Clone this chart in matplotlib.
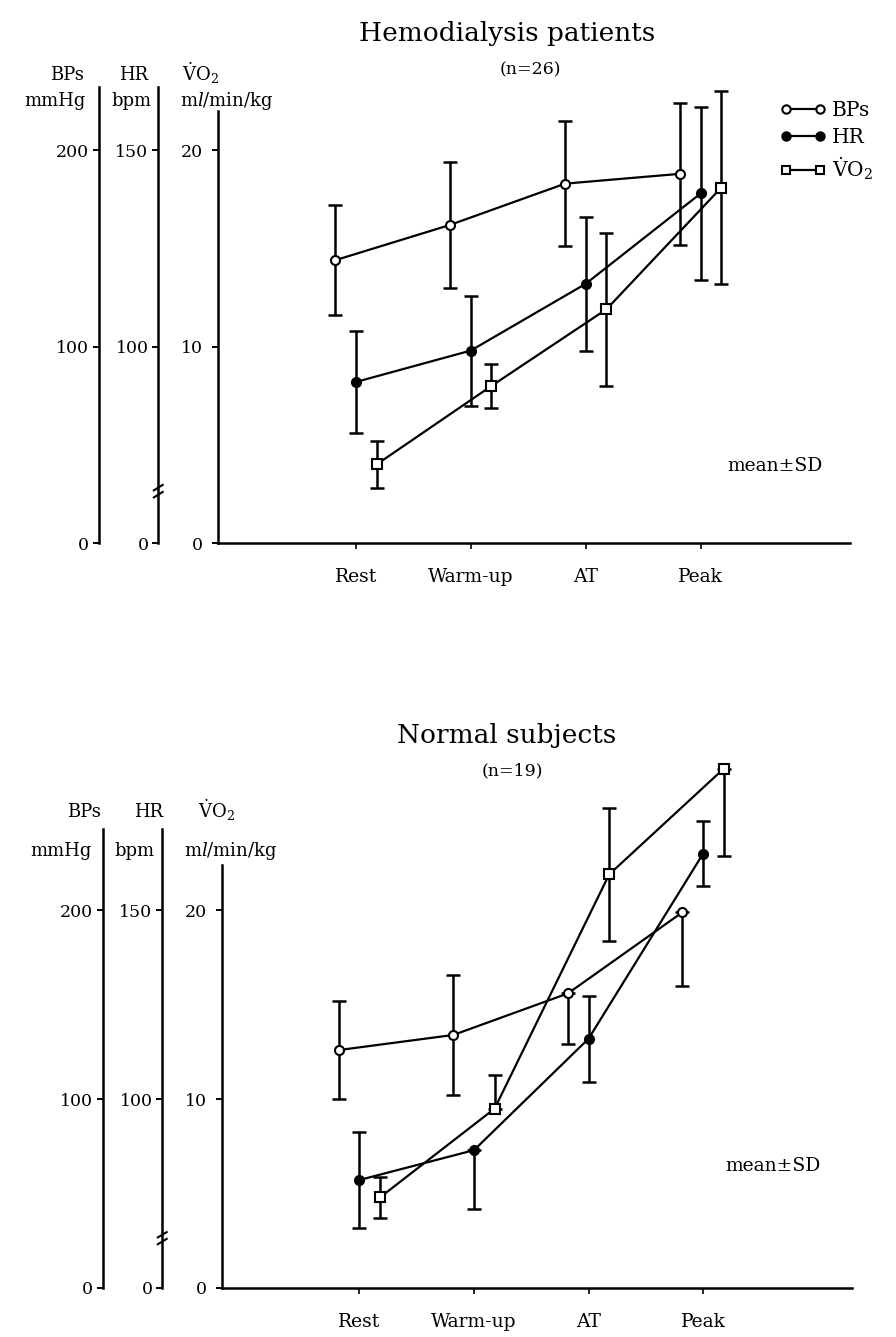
# cardiopulmonary exercise test: BPs / HR / VO2 across stages, two groups
from matplotlib import pyplot as plt
from matplotlib.lines import Line2D
import numpy as np

plt.rcParams['font.family'] = ['DejaVu Serif']
plt.rcParams['mathtext.fontset'] = 'dejavuserif'

stages = ["Rest", "Warm-up", "AT", "Peak"]

# hemodialysis patients (n=26), mean and SD
hd_bps = [144, 162, 183, 188]
hd_bps_sd = [28, 32, 32, 36]
hd_hr = [91, 99, 116, 139]
hd_hr_sd = [13, 14, 17, 22]
hd_vo2 = [4.0, 8.0, 11.9, 18.1]
hd_vo2_sd = [1.2, 1.1, 3.9, 4.9]

# normal subjects (n=19); side = which half of the SD bar is printed
nm_bps = [126, 134, 156, 199]
nm_bps_sd = [26, 32, 27, 39]
nm_bps_side = ["both", "both", "down", "down"]
nm_hr = [78.6, 86.5, 116, 165]
nm_hr_sd = [12.6, 15.7, 11.4, 8.6]
nm_hr_side = ["both", "down", "both", "both"]
nm_vo2 = [4.8, 9.5, 21.9, 27.5]
nm_vo2_sd = [1.1, 1.8, 3.5, 4.6]
nm_vo2_side = ["both", "up", "both", "down"]

W, H = 896, 1337
VO2_LABEL = r'$\dot{\mathrm{V}}\mathrm{O}_{2}$'


def fx(px):
    return px / W


def fy(py):
    return 1 - py / H


def yerr(sd, side=None):
    sd = np.asarray(sd, dtype=float)
    if side is None:
        return [sd, sd]
    lo = np.array([s if d in ("both", "down") else 0.0 for s, d in zip(sd, side)])
    hi = np.array([s if d in ("both", "up") else 0.0 for s, d in zip(sd, side)])
    return [lo, hi]


def series(ax, x, y, err, marker, mfc):
    eb = ax.errorbar(x, y, yerr=err, fmt="none", ecolor="black", elinewidth=1.8,
                     capsize=5, capthick=1.8, zorder=2)
    for art in [*eb.lines[1], *eb.lines[2]]:
        art.set_clip_on(False)
    # markers on top so a zero-length cap stays hidden
    ax.plot(x, y, color="black", lw=1.6, marker=marker, ms=6.5, mfc=mfc,
            mec="black", mew=1.5, zorder=3, clip_on=False)


def panel(left, bottom_px, right, top_px, vtop, spine_top_v, data):
    rect = [fx(left), fy(bottom_px), fx(right) - fx(left), fy(top_px) - fy(bottom_px)]
    ax_v = fig.add_axes(rect)
    ax_hr = ax_v.twinx()
    ax_bp = ax_v.twinx()

    ax_v.set_xlim(-1.2, 4.3)
    ax_v.set_ylim(0, vtop)
    ax_bp.set_ylim(0, 10 * vtop)
    ax_hr.set_ylim(50, 5 * (vtop + 10))

    for a in (ax_v, ax_hr, ax_bp):
        a.spines["top"].set_visible(False)
        a.spines["right"].set_visible(False)
    for a in (ax_hr, ax_bp):
        a.spines["bottom"].set_visible(False)
        a.spines["left"].set_visible(True)
        a.yaxis.set_ticks_position("left")
    ax_hr.spines["left"].set_position(("outward", 43))
    ax_bp.spines["left"].set_position(("outward", 86))
    ax_bp.spines["left"].set_bounds(0, 10 * spine_top_v)
    ax_hr.spines["left"].set_bounds(50, 5 * (spine_top_v + 10))
    for a in (ax_v, ax_hr, ax_bp):
        for s in a.spines.values():
            s.set_linewidth(1.8)
        a.tick_params(axis="y", direction="out", length=4, width=1.4, labelsize=12.5)

    ax_v.set_yticks([0, 10, 20])
    ax_v.tick_params(axis="y", pad=7)
    ax_bp.set_yticks([0, 100, 200])
    ax_bp.tick_params(axis="y", pad=3)
    ax_hr.set_yticks([50, 100, 150], ["0", "100", "150"])
    ax_hr.tick_params(axis="y", pad=3)

    # axis break on the HR scale
    tr = ax_hr.get_yaxis_transform(which="tick1")
    for y0 in (61.6, 63.4):
        ax_hr.plot([-0.007, 0.007], [y0, y0 + 1.4], color="black", lw=1.5,
                   transform=tr, clip_on=False)

    x = np.arange(len(stages))
    ax_v.set_xticks(x, stages)
    ax_v.tick_params(axis="x", direction="out", length=4, width=1.2,
                     labelsize=13.5, pad=14)

    bps, bps_err, hr, hr_err, vo2, vo2_err = data
    series(ax_bp, x - 0.18, bps, bps_err, "o", "white")
    series(ax_hr, x, hr, hr_err, "o", "black")
    series(ax_v, x + 0.18, vo2, vo2_err, "s", "white")
    return ax_v


fig = plt.figure(figsize=(W / 100, H / 100), dpi=100)

# ---- top: hemodialysis patients
ax1 = panel(218, 543, 850, 111, 22.0, 23.2,
            (hd_bps, yerr(hd_bps_sd), hd_hr, yerr(hd_hr_sd), hd_vo2, yerr(hd_vo2_sd)))
fig.text(fx(507), fy(33), "Hemodialysis patients", fontsize=19, ha="center", va="center")
fig.text(fx(530), fy(70), "(n=26)", fontsize=12.5, ha="center", va="center")
fig.text(fx(775), fy(466), "mean±SD", fontsize=13.5, ha="center", va="center")
for txt, px, py in [("BPs", 67, 75), ("HR", 134, 75), (VO2_LABEL, 200, 73),
                    ("mmHg", 55, 101), ("bpm", 131, 101), (r"m$\mathit{l}$/min/kg", 227, 101)]:
    fig.text(fx(px), fy(py), txt, fontsize=13, ha="center", va="center")

handles = [Line2D([], [], color="black", lw=1.6, marker="o", ms=6, mfc="white", mew=1.5),
           Line2D([], [], color="black", lw=1.6, marker="o", ms=6, mfc="black", mew=1.5),
           Line2D([], [], color="black", lw=1.6, marker="s", ms=6, mfc="white", mew=1.5)]
fig.legend(handles, ["BPs", "HR", VO2_LABEL], loc="upper left",
           bbox_to_anchor=(fx(780), fy(101)), frameon=False, numpoints=2,
           fontsize=14.5, handlelength=2.3, handletextpad=0.3, labelspacing=0.4,
           borderpad=0, borderaxespad=0)

# ---- bottom: normal subjects
ax2 = panel(222, 1288, 852, 865, 22.4, 24.3,
            (nm_bps, yerr(nm_bps_sd, nm_bps_side), nm_hr, yerr(nm_hr_sd, nm_hr_side),
             nm_vo2, yerr(nm_vo2_sd, nm_vo2_side)))
fig.text(fx(507), fy(735), "Normal subjects", fontsize=19, ha="center", va="center")
fig.text(fx(512), fy(771), "(n=19)", fontsize=12.5, ha="center", va="center")
fig.text(fx(773), fy(1166), "mean±SD", fontsize=13.5, ha="center", va="center")
for txt, px, py in [("BPs", 84, 812), ("HR", 149, 812), (VO2_LABEL, 216, 810),
                    ("mmHg", 61, 851), ("bpm", 134, 851), (r"m$\mathit{l}$/min/kg", 231, 851)]:
    fig.text(fx(px), fy(py), txt, fontsize=13, ha="center", va="center")

fig.savefig("out.png", dpi=100)
